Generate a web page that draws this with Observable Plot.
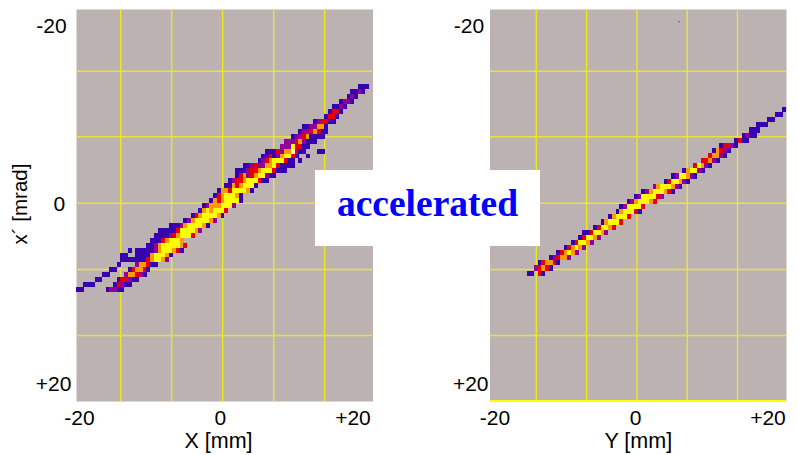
<!DOCTYPE html>
<html>
<head>
<meta charset="utf-8">
<script src="https://cdn.jsdelivr.net/npm/d3@7"></script>
<script src="https://cdn.jsdelivr.net/npm/@observablehq/plot@0.6"></script>
<style>
html,body{margin:0;padding:0;background:#fff}
#wrap{position:relative;width:798px;height:455px;overflow:hidden}
#wrap svg{display:block}
#tag{position:absolute;left:315px;top:170px;width:225px;height:76px;box-sizing:border-box;padding-bottom:8px;background:#fff;color:#0000ff;
font:bold 37.5px "Liberation Serif",serif;display:flex;align-items:center;justify-content:center;line-height:1}
</style>
</head>
<body>
<div id="wrap"><div id="tag">accelerated</div></div>
<script>
// [row, first column, intensity levels per cell]
const xRows = [
[16,76,"111"],[17,74,"1121"],[18,73,"121"],[19,71,"1221"],[20,69,"1121"],[21,68,"1331"],[22,67,"1331"],
[23,64,"123311"],[24,61,"1122441"],[25,60,"12234311"],[26,58,"122341111"],[27,56,"222342111"],[28,55,"22253311"],
[29,51,"11132446311"],[29,65,"11"],[30,50,"1131245531"],[30,62,"1"],[31,49,"1234555311"],[31,60,"1"],
[32,45,"11232244531111"],[33,43,"11123345553111"],[34,43,"13423455211"],[35,41,"12334555311"],[36,40,"114345551"],
[37,38,"1443555541"],[38,37,"13455541"],[39,36,"143455551"],[40,34,"124445552"],[41,33,"14545553"],[42,31,"134555541"],
[43,29,"124555542"],[44,25,"11124555541"],[45,22,"111113555542"],[46,21,"11112345553"],[47,20,"111345554"],
[48,19,"11245555543"],[49,14,"1"],[49,16,"1111124555431"],[50,12,"11"],[50,16,"1111455541"],[51,12,"1111111345542"],
[52,11,"1"],[52,16,"244311"],[53,9,"11"],[53,14,"134431"],[54,7,"11"],[54,13,"244321"],[55,5,"11"],[55,11,"133211"],
[56,2,"111"],[56,10,"13211"],[57,0,"11"],[57,8,"12211"]
];
const yRows = [
[21,79,"1"],[22,77,"11"],[23,75,"11"],[24,72,"111"],[25,70,"111"],[26,68,"1211"],[27,66,"1311"],[28,62,"13321"],
[29,60,"14321"],[30,59,"34421"],[31,57,"33421"],[32,55,"35421"],[33,52,"145521"],[34,49,"1255421"],[35,47,"1355421"],
[36,44,"24555421"],[37,41,"124555431"],[38,39,"12555532"],[39,37,"12455543"],[40,35,"1255553"],[41,34,"1455531"],
[42,32,"145553"],[43,30,"145553"],[44,28,"135543"],[45,25,"1135542"],[46,24,"135542"],[47,22,"135542"],[48,20,"134542"],
[49,18,"134542"],[50,16,"123442"],[51,13,"134431"],[52,12,"23431"],[53,10,"11"],[53,13,"31"]
];
const levels = [1,2,3,4,5,6];
const levelColors = ["#3700b0","#960096","#e80000","#ff9a00","#ffff00","#ffffb0"];
const panels = ["X","Y"];
const gridX = {X:[-14.03,-7.15,-0.27,6.61,13.49], Y:[-13.76,-6.96,-0.17,6.61,13.39]};
const gridY = [-13.37,-6.74,-0.03,6.66,13.33];
const xTickText = ["-20","0","+20"];
const xTickPos = {X:[-19.6,-0.58,17.3], Y:[-19.33,-0.35,17.5]};
const yTicksX = [["-20",-23.37,-17.95],["0",-22.3,0.1],["+20",-23.1,18.28]];
const yTicksY = [["-20",-22.83,-17.95],["+20",-22.6,18.28]];
const xTitles = [{p:"X",t:"X [mm]",x:-0.84},{p:"Y",t:"Y [mm]",x:0}];
const rowMap = {X:{o:-20,s:0.5}, Y:{o:-20.53,s:0.516}};
const colWidth = 0.53;

const cells = [];
for (const [p,rows] of [["X",xRows],["Y",yRows]])
  for (const [r,c,s] of rows)
    [...s].forEach((l,i)=>cells.push({p,level:+l,
      x1:(c+i)/2-20, x2:(c+i)/2-20+colWidth,
      y1:rowMap[p].o+r*rowMap[p].s, y2:rowMap[p].o+(r+1)*rowMap[p].s}));
const vLines = panels.flatMap(p=>gridX[p].map(x=>({p,x})));
const hLines = panels.flatMap(p=>gridY.map(y=>({p,y})));
const xTicks = panels.flatMap(p=>xTickText.map((t,i)=>({p,t,x:xTickPos[p][i]})));
const yTicks = [...yTicksX.map(([t,x,y])=>({p:"X",t,x,y})),...yTicksY.map(([t,x,y])=>({p:"Y",t,x,y}))];
const fs = 21, ts = 21.5;

const chart = Plot.plot({
  width:798,height:455,marginLeft:76,marginRight:12,marginTop:9,marginBottom:54,
  style:{fontFamily:"'Liberation Sans',Arial,sans-serif",background:"#fff",overflow:"visible"},
  fx:{domain:panels,axis:null,paddingInner:0.283,paddingOuter:0,round:false},
  x:{domain:[-20,20],axis:null},
  y:{domain:[-19.6,20],reverse:true,axis:null},
  color:{domain:levels,range:levelColors},
  marks:[
    Plot.frame({fill:"#bcb2b2",stroke:null}),
    Plot.ruleX(vLines,{x:"x",fx:"p",stroke:"#f6f000",strokeWidth:1.2}),
    Plot.ruleY(hLines,{y:"y",fx:"p",stroke:"#e8e23c",strokeWidth:1.5}),
    Plot.ruleY([{p:"Y",y:19.95}],{y:"y",fx:"p",stroke:"#ffff00",strokeWidth:1.8}),
    Plot.dot([{p:"Y",x:5.5,y:-18.37}],{x:"x",y:"y",fx:"p",r:0.6,fill:"#333"}),
    Plot.rect(cells,{x1:"x1",x2:"x2",y1:"y1",y2:"y2",fx:"p",fill:"level",shapeRendering:"crispEdges"}),
    Plot.text(xTicks,{x:"x",y:()=>21.7,fx:"p",text:"t",fontSize:fs,fill:"#000"}),
    Plot.text(yTicks,{x:"x",y:"y",fx:"p",text:"t",fontSize:fs,fill:"#000"}),
    Plot.text(xTitles,{x:"x",y:()=>24.05,fx:"p",text:"t",fontSize:ts,fill:"#000"}),
    Plot.text([{p:"X",t:"x´ [mrad]"}],{x:()=>-27.5,y:()=>0.05,fx:"p",text:"t",rotate:-90,fontSize:20.5,fill:"#000"})
  ]
});
document.getElementById("wrap").prepend(chart);
</script>
</body>
</html>
